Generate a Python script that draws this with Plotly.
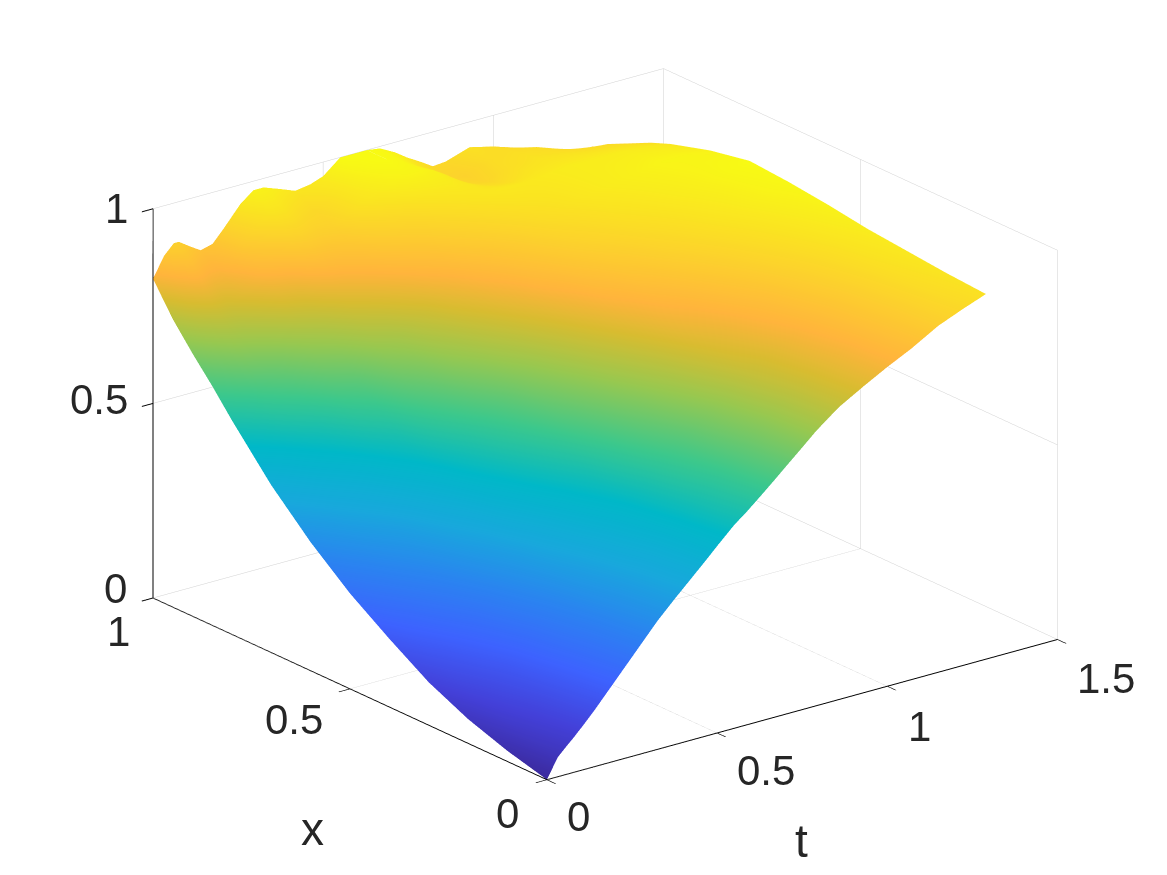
import plotly.graph_objects as go

t_values = [0,.032,.061,.076,.111,.14,.175,.208,.257,.295,.325,.374,.418,.462,.5,.55,.588,.628,.667,.71,.746,.79,.822,.86,.93,1.0,1.07,1.15,1.22,1.29]
x_values = [0,.1,.2,.3,.4,.5,.6,.7,.8,.85,.9,.95,1]

row_00 = [0,.05,.075,.087,.118,.145,.18,.213,.262,.30,.33,.373,.41,.447,.48,.522,.548,.578,.608,.642,.67,.705,.727,.752,.787,.82,.85,.89,.915,.938]
row_10 = [.027,.075,.10,.11,.14,.17,.205,.238,.283,.325,.35,.393,.428,.465,.50,.542,.568,.596,.628,.658,.683,.715,.737,.76,.795,.825,.86,.895,.925,.945]
row_20 = [.062,.105,.13,.142,.172,.20,.235,.268,.318,.36,.385,.428,.463,.495,.53,.572,.60,.626,.653,.683,.708,.74,.76,.775,.808,.84,.87,.905,.935,.955]
row_30 = [.11,.15,.175,.19,.22,.245,.28,.315,.363,.403,.43,.473,.508,.54,.575,.617,.645,.67,.698,.725,.75,.775,.79,.805,.835,.86,.89,.92,.945,.965]
row_40 = [.175,.21,.235,.25,.28,.305,.34,.375,.418,.46,.487,.53,.563,.597,.63,.665,.69,.72,.743,.77,.79,.815,.828,.84,.865,.89,.915,.94,.96,.98]
row_50 = [.245,.28,.305,.32,.348,.37,.403,.435,.478,.518,.545,.585,.617,.65,.68,.713,.74,.765,.79,.815,.835,.85,.865,.875,.90,.92,.94,.96,.98,.992]
row_60 = [.33,.36,.385,.40,.427,.45,.48,.51,.547,.59,.617,.652,.688,.715,.74,.77,.793,.815,.838,.856,.872,.89,.90,.91,.93,.945,.96,.975,.99,1.0]
row_70 = [.43,.455,.48,.495,.525,.545,.575,.605,.635,.67,.695,.72,.75,.775,.80,.825,.845,.862,.878,.895,.91,.925,.932,.94,.955,.965,.975,.985,.985,.98]
row_80 = [.55,.575,.60,.615,.64,.66,.69,.715,.745,.77,.79,.815,.835,.855,.87,.885,.90,.915,.928,.942,.95,.955,.955,.955,.96,.965,.965,.965,.96,.95]
row_85 = [.615,.645,.675,.69,.71,.73,.755,.78,.80,.83,.845,.855,.87,.89,.905,.92,.93,.945,.955,.96,.955,.94,.932,.93,.945,.95,.95,.945,.94,.93]
row_90 = [.675,.72,.75,.762,.77,.79,.815,.84,.865,.893,.90,.895,.90,.925,.945,.96,.975,.985,.985,.975,.955,.925,.915,.91,.93,.94,.935,.925,.92,.905]
row_95 = [.74,.80,.835,.84,.825,.825,.85,.885,.925,.945,.945,.925,.915,.93,.95,.98,.995,1.0,.99,.965,.94,.915,.905,.90,.925,.93,.925,.90,.885,.875]
row_100 = [.82,.871,.897,.897,.876,.86,.868,.90,.951,.977,.977,.961,.946,.952,.964,1.0,1.0,1.0,.995,.975,.953,.93,.912,.915,.935,.92,.90,.875,.85,.85]
z_rows = [row_00,row_10,row_20,row_30,row_40,row_50,row_60,row_70,row_80,row_85,row_90,row_95,row_100]

t_ticks = [0,.5,1,1.5]
t_labels = ["0","0.5","1","1.5"]
x_ticks = [0,.5,1]
x_labels = ["0","0.5","1"]
z_ticks = [0,.5,1]
z_labels = ["0","0.5","1"]

color_scale = [[0,"#3b2a9e"],[.1,"#4340d8"],[.2,"#3d62ff"],[.3,"#2a84f0"],[.4,"#18a8dc"],[.5,"#00b8c8"],
               [.6,"#3cc88c"],[.7,"#98c850"],[.78,"#d8bc30"],[.83,"#ffb43c"],[.9,"#fcd22c"],[1,"#f8fa14"]]

def axis(vals, rng):
    return dict(title=dict(text=""), range=rng, tickmode="array", tickvals=vals, showticklabels=False,
                showbackground=False, showgrid=True, gridcolor="#d0d0d0", gridwidth=1,
                zeroline=False, showline=True, linecolor="#000000", linewidth=2,
                ticks="outside", ticklen=14, tickcolor="#000000", tickwidth=2, showspikes=False)

def note(x, y, z, text, dx, dy, size=42):
    return dict(x=x, y=y, z=z, text=text, showarrow=False, xshift=dx, yshift=-dy,
                font=dict(family="Liberation Sans", size=size, color="#262626"))

anns = []
for v, s, off in zip(t_ticks, t_labels, [(32,37),(49,38),(32,40),(49,39)]):
    anns.append(note(v, 0, 0, s, *off))
for v, s, off in zip(x_ticks, x_labels, [(-39,34),(-56,31),(-34,33)]):
    anns.append(note(0, v, 0, s, *off))
for v, s, off in zip(z_ticks, z_labels, [(-37,-10),(-54,-4),(-36,0)]):
    anns.append(note(0, 1, v, s, *off))
anns.append(note(0, .5, 0, "x", -37, 140, 46))
anns.append(note(.75, 0, 0, "t", -1, 131, 46))

fig = go.Figure(go.Surface(x=t_values, y=x_values, z=z_rows, colorscale=color_scale, cmin=0, cmax=1,
                           showscale=False, hoverinfo="skip",
                           lighting=dict(ambient=1, diffuse=0, specular=0, roughness=1, fresnel=0)))
r = 1.9
c = (-.046, .0217, -.0285)
fig.update_layout(width=1167, height=875, margin=dict(l=0,r=0,t=0,b=0), paper_bgcolor="white",
    scene=dict(xaxis=axis(t_ticks,[0,1.5]), yaxis=axis(x_ticks,[0,1]), zaxis=axis(z_ticks,[0,1]),
               aspectmode="manual", aspectratio=dict(x=1.474,y=1.474,z=.952), annotations=anns,
               camera=dict(eye=dict(x=c[0]-.571*r,y=c[1]-.740*r,z=c[2]+.356*r), up=dict(x=0,y=0,z=1),
                           center=dict(x=c[0],y=c[1],z=c[2]), projection=dict(type="orthographic"))))
fig.write_html("out.html", config=dict(displayModeBar=False), post_script="document.body.style.margin='0';")
